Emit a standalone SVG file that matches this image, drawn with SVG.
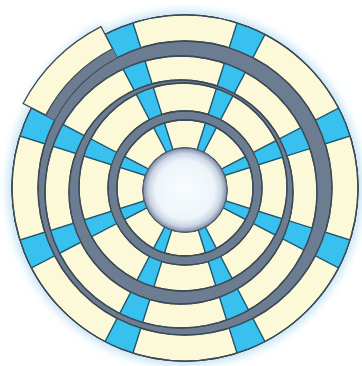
<svg xmlns="http://www.w3.org/2000/svg" xmlns:xlink="http://www.w3.org/1999/xlink" width="362" height="366" viewBox="0 0 362 366">
<defs>
<style>
.cream{fill:#FCF9D8;stroke:#3C4A57;stroke-width:1.3;fill-rule:evenodd}
.edge{fill:none;stroke:#3C4A57;stroke-width:1.3}
.cyan{fill:#38C1EE;stroke:#1E5670;stroke-width:1.4}
.band{fill:#6D7D91;stroke:#3C4A57;stroke-width:1.3}
</style>
<filter id="blur" x="-20%" y="-20%" width="140%" height="140%"><feGaussianBlur stdDeviation="5"/></filter>
<radialGradient id="holeG" cx="0.5" cy="0.5" r="0.5">
<stop offset="0" stop-color="#F8FCFE"/>
<stop offset="0.7" stop-color="#EEF5FA"/>
<stop offset="0.87" stop-color="#C9D5E4"/>
<stop offset="1" stop-color="#7E8BA6"/>
</radialGradient>
<path id="r1" d="M12 188A173 173 0 1 0 358 188A173 173 0 1 0 12 188ZM38 188A147 147 0 1 0 332 188A147 147 0 1 0 38 188Z"/>
<path id="r2" d="M45 192A136 136 0 1 0 317 192A136 136 0 1 0 45 192ZM69 192A112 112 0 1 0 293 192A112 112 0 1 0 69 192Z"/>
<path id="r3" d="M79 187A104 104 0 1 0 287 187A104 104 0 1 0 79 187ZM108 188A77 77 0 1 0 262 188A77 77 0 1 0 108 188Z"/>
<path id="r4" d="M117 188A68 68 0 1 0 253 188A68 68 0 1 0 117 188ZM143 190A42 42 0 1 0 227 190A42 42 0 1 0 143 190Z"/>
<clipPath id="c1"><use xlink:href="#r1" clip-rule="evenodd"/></clipPath>
<clipPath id="c2"><use xlink:href="#r2" clip-rule="evenodd"/></clipPath>
<clipPath id="c3"><use xlink:href="#r3" clip-rule="evenodd"/></clipPath>
<clipPath id="c4"><use xlink:href="#r4" clip-rule="evenodd"/></clipPath>
<g id="spokes" class="cyan">
<path d="M185 188L375.74 248.14L362.4 280.35Z"/>
<path d="M185 188L277.35 365.4L245.14 378.74Z"/>
<path d="M185 188L124.86 378.74L92.65 365.4Z"/>
<path d="M185 188L7.6 280.35L-5.74 248.14Z"/>
<path d="M185 188L-5.74 127.86L7.6 95.65Z"/>
<path d="M185 188L92.65 10.6L124.86 -2.74Z"/>
<path d="M185 188L245.14 -2.74L277.35 10.6Z"/>
<path d="M185 188L362.4 95.65L375.74 127.86Z"/>
</g>
</defs>
<rect width="362" height="366" fill="#FFFFFF"/>
<g id="glow" filter="url(#blur)" fill="#BFE1F3">
<circle cx="185" cy="188" r="177"/>
<path d="M26 105A183 183 0 0 1 100 24L110 45L40 115Z"/>
</g>
<circle id="base" cx="185" cy="188" r="173" class="band"/>
<g id="ring1">
<use xlink:href="#r1" class="cream"/>
<g clip-path="url(#c1)"><use xlink:href="#spokes"/></g>
<use xlink:href="#r1" class="edge"/>
</g>
<g id="ring2">
<use xlink:href="#r2" class="cream"/>
<g clip-path="url(#c2)"><use xlink:href="#spokes"/></g>
<use xlink:href="#r2" class="edge"/>
</g>
<g id="ring3">
<use xlink:href="#r3" class="cream"/>
<g clip-path="url(#c3)"><use xlink:href="#spokes"/></g>
<use xlink:href="#r3" class="edge"/>
</g>
<g id="ring4">
<use xlink:href="#r4" class="cream"/>
<g clip-path="url(#c4)"><use xlink:href="#spokes"/></g>
<use xlink:href="#r4" class="edge"/>
</g>
<g id="popped">
<path d="M31.55 108.12A173 173 0 0 1 105.12 34.55L117.12 57.61A147 147 0 0 0 54.61 120.12Z" fill="#6D7D91"/>
<path d="M23.12 103.5A182 182 0 0 1 100.96 26.57L112.5 48.74A157 157 0 0 0 45.74 115.11Z" class="cream"/>
</g>
<circle id="hole" cx="185" cy="190" r="42" fill="url(#holeG)" stroke="#55647A" stroke-width="1"/>
</svg>
